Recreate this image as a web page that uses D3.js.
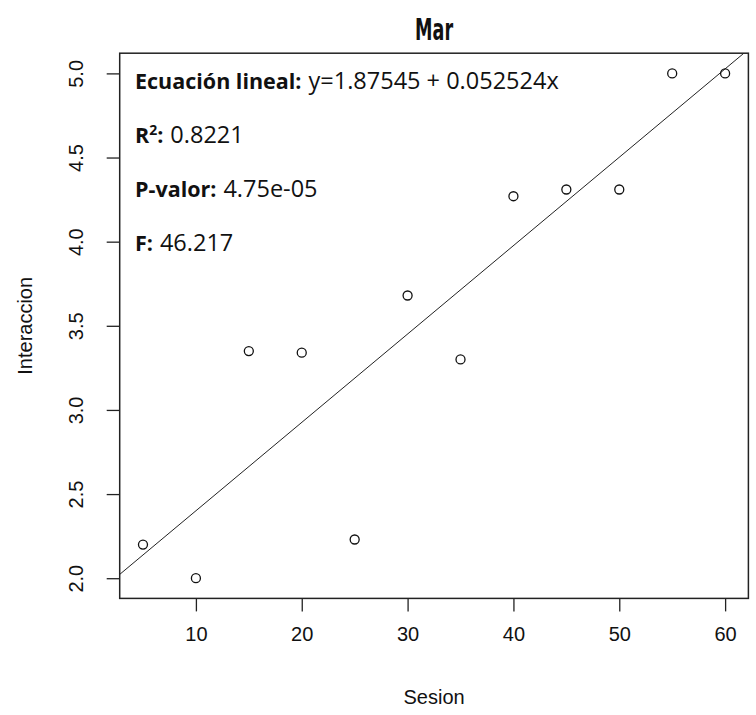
<!DOCTYPE html>
<html>
<head>
<meta charset="utf-8">
<script src="https://cdn.jsdelivr.net/npm/d3@7"></script>
<style>
  body { margin: 0; background: #fff; }
  svg text { fill: #111; }
</style>
</head>
<body>
<div id="app"></div>
<script>
var width = 756, height = 715;

// data
var sesion = [5, 10, 15, 20, 25, 30, 35, 40, 45, 50, 55, 60];
var interaccion = [2.20, 2.00, 3.35, 3.34, 2.23, 3.68, 3.30, 4.27, 4.31, 4.31, 5.00, 5.00];
var xTicks = [10, 20, 30, 40, 50, 60];
var yTicks = [2.0, 2.5, 3.0, 3.5, 4.0, 4.5, 5.0];
var intercept = 1.87545, slope = 0.052524;
var statLabels = ["Ecuación lineal:", "R", "P-valor:", "F:"];
var statValues = ["y=1.87545 + 0.052524x", "0.8221", "4.75e-05", "46.217"];

var plot = {left: 119.7, right: 748.4, top: 53.2, bottom: 598.4};

// R style 4% padding on each side
var xr = d3.extent(sesion), yr = d3.extent(interaccion);
var xPad = (xr[1] - xr[0]) * 0.04, yPad = (yr[1] - yr[0]) * 0.04;
var x = d3.scaleLinear().domain([xr[0] - xPad, xr[1] + xPad]).range([plot.left, plot.right]);
var y = d3.scaleLinear().domain([yr[0] - yPad, yr[1] + yPad]).range([plot.bottom, plot.top]);

var svg = d3.select("#app").append("svg")
    .attr("width", width)
    .attr("height", height);

svg.append("defs").append("clipPath").attr("id", "clip")
    .append("rect")
    .attr("x", plot.left).attr("y", plot.top)
    .attr("width", plot.right - plot.left)
    .attr("height", plot.bottom - plot.top);

// title (narrow display face in the original)
svg.append("text")
    .attr("x", (plot.left + plot.right) / 2 - 19)
    .attr("y", 40)
    .attr("textLength", 38)
    .attr("lengthAdjust", "spacingAndGlyphs")
    .style("font-family", "'Liberation Sans Narrow', 'DejaVu Sans Condensed', sans-serif")
    .style("font-weight", "bold")
    .style("font-size", "30px")
    .text("Mar");

// axes
var xAxis = svg.append("g")
    .attr("transform", "translate(0," + plot.bottom + ")")
    .call(d3.axisBottom(x).tickValues(xTicks).tickSize(13).tickPadding(15));
xAxis.select(".domain").remove();
xAxis.selectAll("line").attr("stroke", "#222").attr("stroke-width", 1.3);
xAxis.selectAll("text")
    .style("font-family", "'Liberation Sans', Arial, sans-serif")
    .style("font-size", "20px")
    .attr("fill", "#222");

var yAxis = svg.append("g")
    .attr("transform", "translate(" + plot.left + ",0)")
    .call(d3.axisLeft(y).tickValues(yTicks).tickSize(13).tickFormat(d3.format(".1f")));
yAxis.select(".domain").remove();
yAxis.selectAll("line").attr("stroke", "#222").attr("stroke-width", 1.3);
yAxis.selectAll("text")
    .attr("x", null).attr("dy", null)
    .attr("transform", "translate(-37,0) rotate(-90)")
    .attr("text-anchor", "middle")
    .attr("y", 0)
    .style("font-family", "'Liberation Sans', Arial, sans-serif")
    .style("font-size", "20px")
    .attr("fill", "#222");

// axis titles
svg.append("text")
    .attr("x", (plot.left + plot.right) / 2)
    .attr("y", 704)
    .attr("text-anchor", "middle")
    .style("font-family", "'Liberation Sans', Arial, sans-serif")
    .style("font-size", "20px")
    .attr("fill", "#333")
    .text("Sesion");

svg.append("text")
    .attr("transform", "translate(32," + (plot.top + plot.bottom) / 2 + ") rotate(-90)")
    .attr("text-anchor", "middle")
    .style("font-family", "'Liberation Sans', Arial, sans-serif")
    .style("font-size", "20px")
    .attr("fill", "#333")
    .text("Interaccion");

// regression line
var xd = x.domain();
svg.append("line")
    .attr("clip-path", "url(#clip)")
    .attr("x1", x(xd[0])).attr("y1", y(intercept + slope * xd[0]))
    .attr("x2", x(xd[1])).attr("y2", y(intercept + slope * xd[1]))
    .attr("stroke", "#222")
    .attr("stroke-width", 1);

// points
svg.selectAll("circle.pt")
    .data(sesion)
    .enter().append("circle")
    .attr("class", "pt")
    .attr("cx", function(d) { return x(d); })
    .attr("cy", function(d, i) { return y(interaccion[i]); })
    .attr("r", 4.5)
    .attr("fill", "none")
    .attr("stroke", "#111")
    .attr("stroke-width", 1.3);

// box
svg.append("rect")
    .attr("x", plot.left).attr("y", plot.top)
    .attr("width", plot.right - plot.left)
    .attr("height", plot.bottom - plot.top)
    .attr("fill", "none")
    .attr("stroke", "#222")
    .attr("stroke-width", 1.5);

// stats text
var stats = svg.append("g")
    .style("font-family", "'Open Sans', Lato, sans-serif")
    .style("font-size", "21.5px");
statLabels.forEach(function(lab, i) {
    var t = stats.append("text")
        .attr("x", 135)
        .attr("y", 89 + i * 54);
    t.append("tspan").style("font-weight", "bold").text(lab);
    if (lab === "R") {
        t.append("tspan").style("font-weight", "bold").style("font-size", "14px").attr("dy", -8).text("2");
        t.append("tspan").style("font-weight", "bold").attr("dy", 8).text(":");
    }
    t.append("tspan").attr("dx", 7).style("font-size", "23.5px").text(statValues[i]);
});
</script>
</body>
</html>
